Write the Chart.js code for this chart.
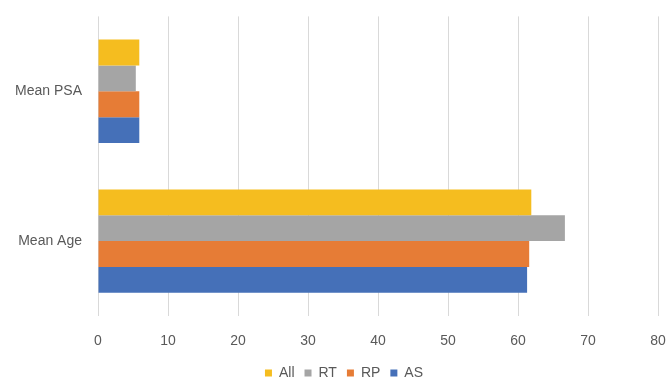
<!DOCTYPE html>
<html>
<head>
<meta charset="utf-8">
<script src="https://cdn.jsdelivr.net/npm/chart.js@4/dist/chart.umd.min.js"></script>
<style>
  html, body { margin: 0; padding: 0; background: #fff; }
  #wrap { width: 668px; height: 384px; }
</style>
</head>
<body>
<div id="wrap"><canvas id="chart"></canvas></div>
<script>
// categories (top to bottom) and series values
const categories = ["Mean PSA", "Mean Age"];
const seriesNames = ["All", "RT", "RP", "AS"];
const allValues = [5.9, 61.9];
const rtValues = [5.4, 66.7];
const rpValues = [5.9, 61.6];
const asValues = [5.9, 61.3];
const xTicks = [0, 10, 20, 30, 40, 50, 60, 70, 80];

const colors = ["#F5BD1F", "#A5A5A5", "#E67C36", "#4570B8"];
const values = [allValues, rtValues, rpValues, asValues];

const font = "'Liberation Sans', sans-serif";

// fixed legend height, and nudge it right like the original
const legendTweak = {
    id: "legendTweak",
    beforeInit(chart) {
        const origFit = chart.legend.fit;
        chart.legend.fit = function() {
            origFit.bind(chart.legend)();
            this.height = 28;
        };
    },
    afterLayout(chart) {
        const lg = chart.legend;
        lg.left += 10;
        lg.right += 10;
        lg.adjustHitBoxes();
    }
};

new Chart(document.getElementById("chart"), {
    type: "bar",
    data: {
        labels: categories,
        datasets: seriesNames.map((name, i) => ({
            label: name,
            data: values[i],
            backgroundColor: colors[i],
            borderWidth: 0,
            categoryPercentage: 0.69,
            barPercentage: 1.0
        }))
    },
    options: {
        indexAxis: "y",
        responsive: true,
        maintainAspectRatio: false,
        animation: false,
        layout: {
            padding: { top: 6, right: 0, left: 0, bottom: 0 }
        },
        scales: {
            x: {
                min: 0,
                max: 80,
                afterBuildTicks: scale => {
                    scale.ticks = xTicks.map(v => ({ value: v }));
                },
                afterFit: scale => {
                    scale.height = 40;
                    scale.paddingRight = 10;
                },
                grid: {
                    color: "#d9d9d9",
                    lineWidth: 1,
                    drawTicks: false
                },
                border: { display: false },
                ticks: {
                    color: "#595959",
                    font: { family: font, size: 14 },
                    padding: 17
                }
            },
            y: {
                grid: { display: false },
                border: { display: false },
                afterFit: scale => { scale.width = 98; },
                ticks: {
                    color: "#595959",
                    font: { family: font, size: 14 },
                    padding: 8
                }
            }
        },
        plugins: {
            legend: {
                position: "bottom",
                labels: {
                    color: "#595959",
                    font: { family: font, size: 14 },
                    boxWidth: 7,
                    boxHeight: 7,
                    padding: 10
                }
            },
            tooltip: { enabled: false }
        }
    },
    plugins: [legendTweak]
});
</script>
</body>
</html>
